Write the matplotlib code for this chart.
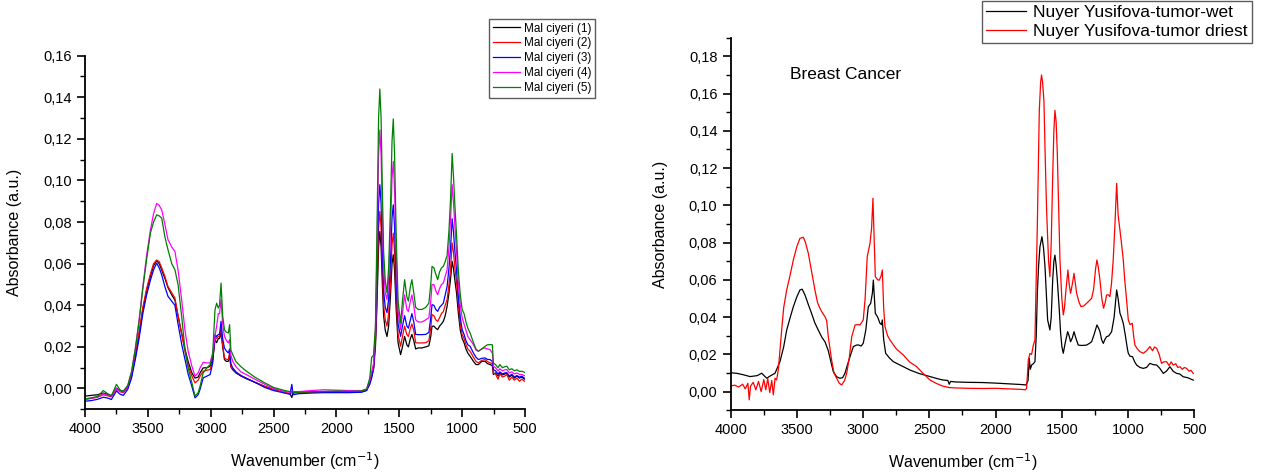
import matplotlib
matplotlib.use("Agg")
import matplotlib.pyplot as plt
from matplotlib.ticker import MultipleLocator, FuncFormatter

plt.rcParams['font.family'] = ['Liberation Sans', 'DejaVu Sans']

# ---------------- left panel: Mal ciyeri (1..5) ----------------
wn_left = [4000, 3950, 3900, 3855, 3820, 3790, 3750, 3720, 3695, 3660, 3630, 3600,
           3570, 3540, 3510, 3480, 3455, 3430, 3410, 3390, 3365, 3340, 3310, 3285, 3260, 3230, 3205, 3180, 3150, 3125, 3100, 3085, 3060, 3030, 3005,
           2985, 2966, 2953, 2940, 2930, 2918, 2905, 2891, 2875, 2860, 2850, 2840, 2825, 2800, 2760, 2720, 2650, 2570, 2500, 2410, 2370, 2355, 2345, 2300,
           2200, 2100, 2000, 1900, 1800, 1760, 1735, 1720, 1705, 1690,
           1678, 1665, 1655, 1645, 1635, 1625, 1612, 1598, 1585, 1570, 1558, 1548, 1538, 1525, 1510, 1490, 1475, 1458, 1440, 1428, 1412, 1400, 1385, 1370,
           1350, 1320, 1290, 1265, 1250, 1240, 1225, 1210, 1195, 1180, 1165, 1150, 1135, 1120, 1105, 1092, 1080, 1070, 1058, 1045,
           1030, 1015, 1000, 985, 970, 955, 937, 910, 890, 871, 845, 818, 800, 778, 760, 752, 735, 715, 700, 680,
           660, 645, 625, 605, 585, 565, 545, 525, 505]

mal1 = [-0.0037, -0.0033, -0.0030, -0.0022, -0.0028, -0.0035, 0.0002, -0.0010, -0.0017, 0.0008, 0.006, 0.015,
        0.026, 0.038, 0.047, 0.054, 0.059, 0.0615, 0.060, 0.057, 0.053, 0.0485, 0.045, 0.0425, 0.035, 0.026, 0.019, 0.013, 0.0075, 0.005, 0.0055, 0.0075, 0.0099, 0.010, 0.0107,
        0.014, 0.0235, 0.022, 0.024, 0.024, 0.0267, 0.020, 0.0139, 0.013, 0.0131, 0.016, 0.0105, 0.009, 0.0075, 0.0060, 0.0048, 0.003, 0.0010, -0.0005, -0.002, -0.0025, -0.0043, -0.0020, -0.0020,
        -0.0018, -0.0016, -0.0016, -0.0016, -0.0015, -0.0008, 0.003, 0.006, 0.009, 0.020,
        0.040, 0.068, 0.0755, 0.068, 0.050, 0.035, 0.028, 0.025, 0.030, 0.045, 0.060, 0.0643, 0.057, 0.038, 0.022, 0.0163, 0.020, 0.025, 0.021, 0.020, 0.024, 0.026, 0.023, 0.019,
        0.0195, 0.0195, 0.020, 0.0205, 0.025, 0.0299, 0.030, 0.029, 0.0283, 0.030, 0.031, 0.0323, 0.035, 0.0395, 0.046, 0.053, 0.0611, 0.058, 0.052, 0.046,
        0.036, 0.028, 0.024, 0.022, 0.019, 0.017, 0.0155, 0.013, 0.0115, 0.0115, 0.013, 0.0131, 0.012, 0.0115, 0.011, 0.0067, 0.0075, 0.0060, 0.0075, 0.0065,
        0.0070, 0.0075, 0.0055, 0.0065, 0.0050, 0.0060, 0.0050, 0.0055, 0.0045]

mal2 = [-0.0050, -0.0047, -0.0042, -0.0030, -0.0035, -0.0040, -0.0004, -0.0016, -0.0020, 0.0006, 0.006, 0.016,
        0.027, 0.039, 0.048, 0.055, 0.060, 0.0618, 0.061, 0.058, 0.054, 0.049, 0.046, 0.0435, 0.035, 0.026, 0.018, 0.011, 0.006, 0.0027, 0.0040, 0.0059, 0.0083, 0.0088, 0.0091,
        0.013, 0.0251, 0.024, 0.025, 0.025, 0.0291, 0.021, 0.0147, 0.0140, 0.0139, 0.017, 0.0105, 0.0095, 0.0078, 0.0062, 0.0050, 0.003, 0.0010, -0.0005, -0.002, -0.0025, -0.0020, -0.0020, -0.0020,
        -0.0018, -0.0015, -0.0016, -0.0016, -0.0014, -0.0006, 0.003, 0.006, 0.010, 0.022,
        0.045, 0.077, 0.0851, 0.077, 0.057, 0.040, 0.033, 0.030, 0.036, 0.052, 0.069, 0.0747, 0.066, 0.044, 0.026, 0.0203, 0.025, 0.030, 0.026, 0.025, 0.029, 0.031, 0.028, 0.022,
        0.0219, 0.0219, 0.022, 0.023, 0.029, 0.0355, 0.035, 0.033, 0.0323, 0.034, 0.036, 0.037, 0.040, 0.0427, 0.050, 0.058, 0.070, 0.066, 0.058, 0.051,
        0.040, 0.031, 0.026, 0.024, 0.021, 0.019, 0.0179, 0.015, 0.013, 0.0123, 0.0135, 0.0139, 0.013, 0.0123, 0.012, 0.0075, 0.0070, 0.0045, 0.0070, 0.0055,
        0.0060, 0.0067, 0.0040, 0.0055, 0.0040, 0.0050, 0.0035, 0.0045, 0.0035]

mal3 = [-0.0061, -0.0058, -0.0052, -0.0042, -0.0046, -0.0053, -0.0012, -0.0028, -0.0033, -0.0004, 0.005, 0.014,
        0.024, 0.036, 0.045, 0.052, 0.057, 0.0603, 0.058, 0.0547, 0.049, 0.0443, 0.042, 0.040, 0.031, 0.021, 0.014, 0.007, 0.001, -0.0045, -0.003, -0.0004, 0.0051, 0.006, 0.0067,
        0.012, 0.0259, 0.025, 0.026, 0.026, 0.0323, 0.024, 0.0195, 0.018, 0.0171, 0.019, 0.012, 0.0099, 0.0080, 0.0062, 0.0050, 0.003, 0.0005, -0.0010, -0.0022, -0.0028, 0.0020, -0.0030, -0.0025,
        -0.0022, -0.0020, -0.0020, -0.0020, -0.0018, -0.0010, 0.002, 0.005, 0.010, 0.024,
        0.052, 0.089, 0.098, 0.089, 0.066, 0.047, 0.039, 0.0365, 0.043, 0.062, 0.082, 0.0883, 0.078, 0.052, 0.031, 0.0251, 0.030, 0.035, 0.030, 0.029, 0.033, 0.036, 0.032, 0.026,
        0.0259, 0.0259, 0.026, 0.027, 0.034, 0.0403, 0.040, 0.038, 0.0371, 0.039, 0.040, 0.041, 0.045, 0.049, 0.058, 0.068, 0.0816, 0.076, 0.066, 0.057,
        0.044, 0.034, 0.0283, 0.026, 0.023, 0.021, 0.0203, 0.017, 0.015, 0.0139, 0.0145, 0.0147, 0.014, 0.0139, 0.013, 0.0091, 0.0085, 0.0070, 0.0080, 0.0070,
        0.0075, 0.0075, 0.0060, 0.0068, 0.0055, 0.0062, 0.0055, 0.0059, 0.0050]

mal4 = [-0.0053, -0.0048, -0.0040, -0.0025, -0.0032, -0.0038, 0.0000, -0.0014, -0.0018, 0.0012, 0.008, 0.019,
        0.033, 0.049, 0.064, 0.076, 0.084, 0.089, 0.088, 0.0859, 0.079, 0.0715, 0.068, 0.0659, 0.057, 0.042, 0.028, 0.018, 0.0107, 0.0059, 0.0075, 0.0099, 0.0126, 0.0123, 0.0123,
        0.017, 0.0251, 0.030, 0.036, 0.036, 0.0427, 0.031, 0.0251, 0.023, 0.0219, 0.0235, 0.016, 0.0131, 0.0105, 0.0080, 0.0068, 0.0045, 0.002, 0.0000, -0.0015, -0.0018, -0.0012, -0.0015, -0.0015,
        -0.0010, -0.0006, -0.0008, -0.0010, -0.0010, -0.0002, 0.004, 0.008, 0.012, 0.028,
        0.065, 0.112, 0.1243, 0.112, 0.083, 0.058, 0.046, 0.0428, 0.052, 0.077, 0.101, 0.1092, 0.096, 0.064, 0.037, 0.0283, 0.036, 0.045, 0.038, 0.037, 0.042, 0.045, 0.040, 0.033,
        0.032, 0.032, 0.033, 0.034, 0.042, 0.0499, 0.050, 0.047, 0.0451, 0.048, 0.050, 0.0507, 0.054, 0.057, 0.068, 0.082, 0.098, 0.090, 0.078, 0.066,
        0.050, 0.040, 0.0339, 0.031, 0.028, 0.025, 0.0235, 0.021, 0.0185, 0.0179, 0.019, 0.0195, 0.019, 0.0187, 0.017, 0.0107, 0.0100, 0.0085, 0.0095, 0.0085,
        0.0090, 0.0091, 0.0075, 0.0080, 0.0070, 0.0075, 0.0068, 0.0067, 0.0062]

mal5 = [-0.0050, -0.0045, -0.0038, -0.0010, -0.0025, -0.0035, 0.0020, -0.0008, -0.0012, 0.0015, 0.008, 0.019,
        0.032, 0.048, 0.062, 0.0747, 0.080, 0.0835, 0.083, 0.0819, 0.073, 0.0667, 0.060, 0.0571, 0.050, 0.034, 0.0187, 0.010, 0.0027, -0.0037, -0.002, 0.0011, 0.0075, 0.010, 0.0115,
        0.016, 0.0379, 0.041, 0.0387, 0.040, 0.0507, 0.035, 0.0283, 0.027, 0.0267, 0.0307, 0.0185, 0.0163, 0.0130, 0.0105, 0.0085, 0.0055, 0.0027, 0.0005, -0.0010, -0.0015, -0.0012, -0.0018, -0.0018,
        -0.0016, -0.0014, -0.0012, -0.0014, -0.0012, -0.0004, 0.005, 0.015, 0.016, 0.030,
        0.075, 0.130, 0.144, 0.130, 0.096, 0.066, 0.052, 0.046, 0.058, 0.088, 0.119, 0.1296, 0.113, 0.074, 0.042, 0.0315, 0.042, 0.0523, 0.044, 0.042, 0.049, 0.0523, 0.046, 0.039,
        0.038, 0.038, 0.039, 0.041, 0.050, 0.0587, 0.058, 0.055, 0.0523, 0.056, 0.058, 0.0587, 0.061, 0.064, 0.076, 0.092, 0.113, 0.103, 0.088, 0.074,
        0.056, 0.045, 0.0379, 0.036, 0.032, 0.029, 0.0267, 0.022, 0.019, 0.0179, 0.019, 0.0203, 0.021, 0.0211, 0.021, 0.0123, 0.0115, 0.0100, 0.0115, 0.0100,
        0.0105, 0.0107, 0.0090, 0.0095, 0.0085, 0.0090, 0.0082, 0.0083, 0.0078]

left_labels = ['Mal ciyeri (1)', 'Mal ciyeri (2)', 'Mal ciyeri (3)', 'Mal ciyeri (4)', 'Mal ciyeri (5)']
left_colors = ['black', '#ff0000', '#0000ff', '#ff00ff', '#008000']

# ---------------- right panel: tumor wet / driest ----------------
wn_wet = [4000, 3950, 3900, 3854, 3800, 3766, 3728, 3700, 3665, 3628, 3600, 3577, 3550, 3527, 3500, 3477, 3460, 3439, 3415, 3389,
          3365, 3339, 3310, 3288, 3263, 3240, 3225, 3200, 3175, 3155, 3137, 3120, 3099, 3074, 3050, 3036, 3015, 2999, 2980, 2961,
          2943, 2930, 2923, 2915, 2908, 2890, 2873, 2862, 2855, 2845, 2830, 2800, 2772, 2700, 2646, 2580, 2496, 2440, 2400, 2360,
          2350, 2340, 2300, 2200, 2100, 2000, 1900, 1800, 1770, 1755, 1746, 1738, 1728, 1715, 1703, 1693, 1685, 1675, 1665, 1650,
          1638, 1627, 1607, 1590, 1580, 1569, 1560, 1552, 1543, 1534, 1520, 1509, 1499, 1489, 1475, 1456, 1445, 1434, 1420, 1408,
          1395, 1376, 1350, 1313, 1290, 1275, 1255, 1235, 1222, 1212, 1200, 1187, 1175, 1162, 1145, 1124, 1105, 1095, 1086, 1075,
          1061, 1050, 1036, 1020, 1005, 998, 985, 966, 950, 935, 910, 885, 860, 835, 810, 784, 760, 734, 710, 684,
          660, 633, 610, 583, 550, 508]
tumor_wet = [0.0102, 0.0098, 0.0090, 0.0081, 0.0086, 0.0099, 0.0072, 0.0085, 0.0099, 0.0161, 0.024, 0.0331, 0.040, 0.0456, 0.051, 0.0546, 0.055, 0.0519, 0.047, 0.042,
             0.037, 0.0331, 0.029, 0.0268, 0.022, 0.015, 0.0107, 0.008, 0.0072, 0.0075, 0.0099, 0.014, 0.0188, 0.0242, 0.025, 0.0251, 0.0245, 0.026, 0.033, 0.0456,
             0.0474, 0.053, 0.0599, 0.050, 0.042, 0.040, 0.0367, 0.036, 0.0385, 0.028, 0.0206, 0.018, 0.0161, 0.0135, 0.0116, 0.0098, 0.0081, 0.0070, 0.0063, 0.0060,
             0.0040, 0.0055, 0.0052, 0.0050, 0.0049, 0.0046, 0.0042, 0.0038, 0.0036, 0.006, 0.0179, 0.012, 0.0143, 0.015, 0.0161, 0.030, 0.0528, 0.068, 0.0778, 0.0832,
             0.077, 0.0671, 0.0385, 0.0331, 0.040, 0.0599, 0.070, 0.0733, 0.068, 0.0599, 0.045, 0.0313, 0.024, 0.0206, 0.026, 0.0322, 0.030, 0.0268, 0.029, 0.0322,
             0.029, 0.025, 0.0248, 0.025, 0.026, 0.0268, 0.031, 0.0358, 0.034, 0.0322, 0.028, 0.0259, 0.028, 0.0295, 0.030, 0.0322, 0.040, 0.048, 0.0546, 0.050,
             0.0421, 0.040, 0.0367, 0.030, 0.023, 0.0206, 0.019, 0.0188, 0.016, 0.0143, 0.013, 0.0125, 0.013, 0.0152, 0.0145, 0.0143, 0.0125, 0.0098, 0.011, 0.0134,
             0.011, 0.0098, 0.0095, 0.008, 0.0075, 0.0062]

wn_dry = [4000, 3970, 3940, 3910, 3890, 3870, 3860, 3850, 3830, 3810, 3790, 3770, 3750, 3735, 3720, 3705, 3690, 3678, 3665, 3653,
          3640, 3615, 3600, 3577, 3550, 3527, 3500, 3477, 3451, 3435, 3414, 3390, 3364, 3345, 3326, 3305, 3288, 3275, 3263, 3238,
          3220, 3200, 3180, 3162, 3140, 3124, 3105, 3086, 3061, 3040, 3024, 2999, 2985, 2969, 2948, 2936, 2926, 2918, 2908, 2890,
          2878, 2865, 2855, 2845, 2835, 2815, 2797, 2750, 2697, 2650, 2596, 2550, 2496, 2450, 2400, 2350, 2300, 2200, 2100, 2000,
          1900, 1800, 1775, 1766, 1753, 1741, 1728, 1715, 1703, 1685, 1670, 1660, 1653, 1645, 1635, 1625, 1615, 1600, 1590, 1580,
          1569, 1560, 1552, 1543, 1534, 1524, 1514, 1500, 1489, 1480, 1471, 1454, 1445, 1434, 1420, 1408, 1398, 1388, 1370, 1356,
          1335, 1313, 1290, 1275, 1260, 1245, 1235, 1225, 1212, 1198, 1185, 1172, 1162, 1150, 1137, 1125, 1112, 1100, 1086, 1075,
          1061, 1050, 1036, 1025, 1011, 998, 985, 968, 958, 948, 930, 910, 885, 860, 835, 815, 800, 784, 765, 747,
          730, 709, 690, 675, 659, 640, 625, 608, 590, 575, 558, 540, 525, 508]
tumor_dry = [0.0030, 0.0035, 0.0025, 0.0040, 0.0015, 0.0045, -0.0044, 0.0030, 0.0050, 0.0010, 0.0055, 0.0000, 0.0065, 0.0010, 0.0070, -0.0005, 0.0060, -0.0017, 0.0072, 0.0063,
             0.012, 0.0331, 0.045, 0.0546, 0.063, 0.0707, 0.078, 0.0823, 0.0829, 0.080, 0.0743, 0.065, 0.0546, 0.048, 0.0447, 0.042, 0.0403, 0.038, 0.0295, 0.017,
             0.010, 0.0072, 0.0045, 0.0036, 0.006, 0.0099, 0.018, 0.0295, 0.0358, 0.036, 0.0358, 0.0385, 0.050, 0.0725, 0.0797, 0.088, 0.1038, 0.085, 0.0617, 0.060,
             0.0599, 0.062, 0.0653, 0.045, 0.0349, 0.030, 0.0277, 0.023, 0.0197, 0.016, 0.0134, 0.010, 0.0063, 0.0045, 0.0030, 0.0022, 0.0020, 0.0018, 0.0017, 0.0018,
             0.0015, 0.0012, 0.0010, 0.0018, 0.0169, 0.0205, 0.020, 0.025, 0.0277, 0.0886, 0.151, 0.166, 0.170, 0.166, 0.156, 0.125, 0.0975, 0.070, 0.0617, 0.080,
             0.1154, 0.140, 0.151, 0.145, 0.1278, 0.100, 0.0707, 0.050, 0.0412, 0.045, 0.0528, 0.0653, 0.058, 0.0528, 0.058, 0.0635, 0.058, 0.0528, 0.048, 0.0457,
             0.046, 0.0474, 0.049, 0.0501, 0.055, 0.066, 0.0707, 0.067, 0.0599, 0.050, 0.0448, 0.048, 0.0519, 0.052, 0.051, 0.058, 0.0707, 0.088, 0.1118, 0.095,
             0.0868, 0.080, 0.0707, 0.060, 0.0492, 0.0385, 0.036, 0.0367, 0.030, 0.025, 0.023, 0.0215, 0.0206, 0.022, 0.0242, 0.022, 0.024, 0.0233, 0.020, 0.0152,
             0.016, 0.0161, 0.014, 0.016, 0.0143, 0.015, 0.013, 0.0134, 0.012, 0.013, 0.0125, 0.011, 0.0115, 0.0098]

right_labels = ['Nuyer Yusifova-tumor-wet', 'Nuyer Yusifova-tumor driest']

x_ticks = [4000, 3500, 3000, 2500, 2000, 1500, 1000, 500]


def comma(v, pos):
    return f"{v:.2f}".replace('.', ',')


def style_axis(ax, ymax):
    ax.set_xlim(4000, 500)
    ax.set_ylim(-0.01, ymax)
    ax.set_xticks(x_ticks)
    ax.xaxis.set_minor_locator(MultipleLocator(250))
    ax.yaxis.set_major_locator(MultipleLocator(0.02))
    ax.yaxis.set_minor_locator(MultipleLocator(0.01))
    ax.yaxis.set_major_formatter(FuncFormatter(comma))
    ax.spines['top'].set_visible(False)
    ax.spines['right'].set_visible(False)
    for s in ['left', 'bottom']:
        ax.spines[s].set_linewidth(1.3)
    ax.tick_params(which='major', direction='out', length=6, width=1.2, labelsize=10.5)
    ax.tick_params(which='minor', direction='out', length=3.5, width=1.0)
    ax.set_xlabel('Wavenumber (cm$^{-1}$)', fontsize=11.5, labelpad=10)
    ax.set_ylabel('Absorbance (a.u.)', fontsize=11.5, labelpad=15)


fig = plt.figure(figsize=(12.67, 4.74), dpi=100)
ax1 = fig.add_axes([0.0671, 0.1365, 0.3473, 0.746])
ax2 = fig.add_axes([0.5767, 0.1344, 0.3659, 0.786])

for ys, lab, col in zip([mal1, mal2, mal3, mal4, mal5], left_labels, left_colors):
    ax1.plot(wn_left, ys, color=col, lw=0.9, label=lab)
style_axis(ax1, 0.16)
leg1 = ax1.legend(loc='upper right', bbox_to_anchor=(595 / 1267, 1 - 19 / 474),
                  bbox_transform=fig.transFigure, fontsize=8.5, frameon=True,
                  fancybox=False, edgecolor='#333333', borderaxespad=0,
                  labelspacing=0.25, handlelength=2.3, handletextpad=0.35,
                  borderpad=0.3)
leg1.get_frame().set_linewidth(1.0)

ax2.plot(wn_wet, tumor_wet, color='black', lw=0.9, label=right_labels[0])
ax2.plot(wn_dry, tumor_dry, color='#ff0000', lw=0.9, label=right_labels[1])
style_axis(ax2, 0.19)
ax2.text(3552, 0.1705, 'Breast Cancer', fontsize=12.5, va='center', ha='left')
leg2 = ax2.legend(loc='upper right', bbox_to_anchor=(1252 / 1267, 1 - 1 / 474),
                  bbox_transform=fig.transFigure, fontsize=12.5, frameon=True,
                  fancybox=False, edgecolor='#333333', borderaxespad=0,
                  labelspacing=0.2, handlelength=2.3, handletextpad=0.4,
                  borderpad=0.25)
leg2.get_frame().set_linewidth(1.0)

fig.savefig('out.png', dpi=100)
